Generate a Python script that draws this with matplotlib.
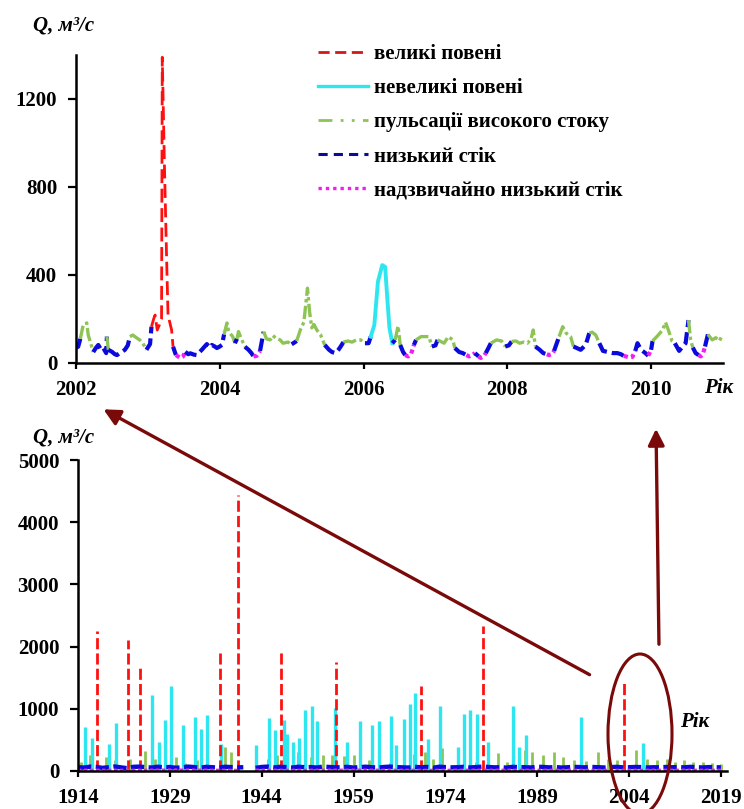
import numpy as np
import matplotlib
matplotlib.use("Agg")
import matplotlib.pyplot as plt
from matplotlib.lines import Line2D
from matplotlib.patches import FancyArrowPatch, Ellipse

plt.rcParams['font.family'] = ['Liberation Serif', 'DejaVu Serif']
plt.rcParams['font.weight'] = 'bold'

# ---- top panel: 2002-2011 daily flow, class per point
# r = великі повені, c = невеликі повені, g = пульсації, b = низький, m = надзвичайно низький
top_t = [2002.00, 2002.03, 2002.06, 2002.10, 2002.15, 2002.17, 2002.20, 2002.24, 2002.28, 2002.31,
         2002.35, 2002.38, 2002.42, 2002.43, 2002.45, 2002.50, 2002.54, 2002.57, 2002.61, 2002.64,
         2002.68, 2002.72, 2002.75, 2002.79, 2002.84, 2002.89, 2002.93, 2002.98, 2003.03, 2003.05,
         2003.08, 2003.10, 2003.13, 2003.16, 2003.19, 2003.20, 2003.23, 2003.26, 2003.28, 2003.33,
         2003.35, 2003.39, 2003.45, 2003.49, 2003.52, 2003.56, 2003.59, 2003.64, 2003.68, 2003.72,
         2003.75, 2003.79, 2003.82, 2003.86, 2003.89, 2003.93, 2003.96, 2004.00, 2004.03, 2004.06,
         2004.10, 2004.12, 2004.14, 2004.18, 2004.21, 2004.24, 2004.26, 2004.30, 2004.35, 2004.40,
         2004.44, 2004.47, 2004.51, 2004.56, 2004.61, 2004.65, 2004.70, 2004.74, 2004.78, 2004.84,
         2004.88, 2004.95, 2005.00, 2005.07, 2005.12, 2005.17, 2005.22, 2005.25, 2005.28, 2005.31,
         2005.35, 2005.40, 2005.43, 2005.46, 2005.52, 2005.56, 2005.61, 2005.65, 2005.68, 2005.72,
         2005.78, 2005.84, 2005.90, 2005.96, 2006.02, 2006.07, 2006.10, 2006.15, 2006.20, 2006.26,
         2006.30, 2006.33, 2006.36, 2006.40, 2006.44, 2006.48, 2006.51, 2006.55, 2006.58, 2006.62,
         2006.66, 2006.70, 2006.73, 2006.80, 2006.91, 2006.95, 2007.00, 2007.03, 2007.12, 2007.18,
         2007.24, 2007.27, 2007.33, 2007.38, 2007.43, 2007.47, 2007.51, 2007.55, 2007.60, 2007.63,
         2007.67, 2007.70, 2007.74, 2007.77, 2007.85, 2007.92, 2007.97, 2008.02, 2008.06, 2008.12,
         2008.17, 2008.23, 2008.28, 2008.33, 2008.36, 2008.39, 2008.45, 2008.50, 2008.55, 2008.58,
         2008.62, 2008.65, 2008.72, 2008.77, 2008.82, 2008.88, 2008.92, 2009.02, 2009.09, 2009.14,
         2009.18, 2009.23, 2009.28, 2009.33, 2009.40, 2009.47, 2009.53, 2009.58, 2009.62, 2009.65,
         2009.70, 2009.74, 2009.78, 2009.81, 2009.86, 2009.92, 2009.96, 2010.00, 2010.02, 2010.08,
         2010.12, 2010.16, 2010.20, 2010.24, 2010.29, 2010.33, 2010.39, 2010.44, 2010.48, 2010.52,
         2010.55, 2010.58, 2010.62, 2010.66, 2010.69, 2010.72, 2010.75, 2010.79, 2010.85, 2010.90,
         2010.95, 2010.98]
top_q = [70, 74, 110, 173, 182, 127, 95, 50, 70, 82,
         60, 68, 45, 120, 60, 51, 40, 36, 45, 51,
         60, 80, 120, 127, 115, 104, 90, 60, 86, 165,
         200, 218, 150, 173, 200, 1390, 900, 480, 218, 150,
         74, 36, 23, 30, 51, 40, 44, 38, 36, 50,
         60, 75, 86, 70, 82, 75, 68, 75, 82, 130,
         182, 150, 136, 120, 90, 110, 143, 110, 74, 60,
         45, 30, 32, 55, 142, 110, 105, 125, 112, 105,
         90, 95, 85, 100, 150, 186, 340, 230, 160, 175,
         150, 130, 105, 82, 60, 50, 45, 60, 74, 95,
         100, 95, 105, 105, 90, 90, 120, 173, 370, 445,
         437, 295, 160, 90, 105, 168, 82, 50, 36, 30,
         40, 82, 105, 120, 120, 75, 80, 105, 90, 120,
         105, 68, 50, 45, 36, 30, 36, 45, 30, 23,
         30, 45, 70, 90, 105, 100, 75, 80, 98, 100,
         90, 95, 90, 110, 150, 75, 60, 45, 40, 36,
         40, 55, 120, 165, 135, 120, 75, 60, 82, 136,
         140, 127, 90, 55, 50, 45, 45, 40, 32, 30,
         25, 28, 55, 90, 60, 45, 33, 60, 100, 120,
         135, 150, 185, 150, 100, 90, 55, 75, 90, 195,
         105, 70, 45, 36, 30, 40, 75, 130, 105, 115,
         100, 120]
top_cls = list("bbgggggbbb" "bbbgbbbbbb" "bbgggggbbr" "rrrrrrrrrr" "bmmmbbbbbb"
               "bbbbbbbbbg" "ggggbgggbb" "bmmbgggggg" "ggbggggggg" "gggbbbbbbg"
               "ggggbbcccc" "cccbggbbmm" "mbgggbbggg" "gbbbmmmbmm" "mbbgggbbgg"
               "gggggbbbmm" "mbggggbbbg" "ggbbbbbbmm" "mmbbbbmbgg" "gggggbbbbg"
               "gbbmmmbggg" "gg")

# ---- bottom panel: 1914-2019
big_years = [1917.1, 1922.2, 1924.1, 1937.2, 1940.1, 1947.1, 1956.1, 1970.1, 1980.1, 2003.2]
big_peaks = [2250, 2100, 1700, 1890, 4430, 1930, 1760, 1370, 2330, 1430]

small_years = [1915.1, 1916.3, 1919.1, 1920.2, 1926.1, 1927.2, 1928.2, 1929.2, 1931.1, 1933.1,
               1934.1, 1935.1, 1937.3, 1943.0, 1945.2, 1946.1, 1947.6, 1948.1, 1949.1, 1950.1,
               1951.0, 1952.2, 1953.1, 1956.0, 1958.0, 1960.0, 1962.0, 1963.1, 1965.1, 1966.0,
               1967.2, 1968.2, 1969.1, 1971.1, 1973.1, 1976.1, 1977.0, 1978.1, 1979.1, 1981.0,
               1985.1, 1986.1, 1987.1, 1996.1, 2006.2]
small_peaks = [700, 530, 430, 770, 1225, 460, 815, 1370, 740, 875,
               680, 900, 435, 410, 850, 660, 820, 600, 470, 530,
               980, 1050, 810, 1010, 460, 800, 740, 810, 890, 420,
               840, 1075, 1250, 515, 1050, 390, 915, 985, 920, 470,
               1050, 390, 580, 875, 445]

pulse_years = [1914.5, 1916.0, 1918.5, 1920.0, 1922.5, 1925.0, 1926.5, 1930.0, 1931.5, 1933.5,
               1938.0, 1939.0, 1945.0, 1946.5, 1950.0, 1952.0, 1954.0, 1955.5, 1957.5, 1959.0,
               1961.5, 1965.0, 1968.8, 1970.7, 1972.0, 1973.4, 1976.0, 1979.0, 1981.0, 1982.6,
               1984.0, 1987.0, 1988.1, 1990.0, 1991.7, 1993.2, 1995.0, 1997.0, 1998.9, 2000.5,
               2002.0, 2005.2, 2007.0, 2008.5, 2010.2, 2011.5, 2013.0, 2014.5, 2016.0, 2017.5,
               2019.0]
pulse_peaks = [150, 250, 230, 180, 200, 320, 200, 230, 130, 170,
               380, 300, 200, 250, 300, 220, 250, 250, 240, 250,
               180, 130, 275, 310, 200, 365, 190, 150, 230, 285,
               150, 330, 310, 250, 310, 230, 180, 160, 310, 200,
               180, 340, 190, 170, 190, 150, 180, 140, 150, 130,
               120]

base_years = list(range(1914, 2020))
base_q = [60, 55, 70, 65, 50, 60, 72, 58, 45, 66,
          70, 62, 55, 68, 60, 64, 52, 58, 70, 62,
          56, 66, 60, 54, 68, 62, 58, 60, np.nan, 50,
          64, 70, 58, 66, 62, 55, 68, 60, 62, 56,
          70, 64, 58, 60, 66, 54, 62, 68, 60, 56,
          64, 70, 62, 58, 55, 66, 60, 64, 52, 68,
          62, 58, 60, 66, 56, 62, 70, 64, 58, 60,
          54, 66, 62, 60, 56, 68, 64, 58, 62, 55,
          60, 66, 62, 58, 64, 60, 56, 62, 66, 58,
          60, 64, 62, 56, 60, 58, 64, 60, 62, 58,
          66, 60, 56, 62, 60, 58]
xlow_years = [1914, 1922, 1930, 1940, 1941, 1943, 1950, 1960, 1970, 1980, 1990, 2000, 2010, 2019]
xlow_q = [12, 10, 14, 10, np.nan, 12, 11, 13, 10, 12, 11, 10, 12, 11]

labels = ['великі повені', 'невеликі повені', 'пульсації високого стоку',
          'низький стік', 'надзвичайно низький стік']

W, H = 744, 809
fig = plt.figure(figsize=(W / 100, H / 100), dpi=100)


def fx(x):
    return x / W


def fy(y):
    return 1 - y / H


styles = {
    'r': dict(color='#FF1010', lw=2.0, ls=(0, (5, 2))),
    'c': dict(color='#2EE6F0', lw=2.8, ls='-'),
    'g': dict(color='#8DC455', lw=2.4, ls=(0, (4, 1, 1, 1))),
    'b': dict(color='#0A0ADC', lw=3.0, ls=(0, (3, 1.2))),
    'm': dict(color='#F01EF0', lw=3.0, ls=(0, (1, 0.8))),
}

ax1 = fig.add_axes([fx(76), fy(363), fx(723) - fx(76), fy(55) - fy(363)])
n = len(top_t)
i = 0
while i < n:
    j = i
    while j + 1 < n and top_cls[j + 1] == top_cls[i]:
        j += 1
    end = min(j + 1, n - 1)
    ax1.plot(top_t[i:end + 1], top_q[i:end + 1], **styles[top_cls[i]])
    i = j + 1
ax1.set_xlim(2002, 2011)
ax1.set_ylim(0, 1400)
ax1.set_xticks([2002, 2004, 2006, 2008, 2010])
ax1.set_yticks([0, 400, 800, 1200])

ax2 = fig.add_axes([fx(78), fy(771), fx(727) - fx(78), fy(460) - fy(771)])
ax2.vlines(pulse_years, 0, pulse_peaks, color=styles['g']['color'], lw=2.0)
ax2.vlines(small_years, 0, small_peaks, color=styles['c']['color'], lw=2.4)
ax2.vlines(big_years, 0, big_peaks, color=styles['r']['color'], lw=2.0, linestyles=(0, (4, 1.5)))
ax2.plot(base_years, base_q, color=styles['b']['color'], lw=3.2, ls=(0, (3, 1)))
ax2.plot(xlow_years, xlow_q, color=styles['m']['color'], lw=2.4, ls=(0, (1, 0.8)))
ax2.set_xlim(1914, 2020)
ax2.set_ylim(0, 5000)
ax2.set_xticks([1914, 1929, 1944, 1959, 1974, 1989, 2004, 2019])
ax2.set_yticks([0, 1000, 2000, 3000, 4000, 5000])

for ax in (ax1, ax2):
    for s in ('top', 'right'):
        ax.spines[s].set_visible(False)
    for s in ('left', 'bottom'):
        ax.spines[s].set_linewidth(1.8)
    ax.tick_params(axis='y', direction='out', length=5.5, width=1.6, pad=8, labelsize=15)
    ax.tick_params(axis='x', direction='out', length=4.5, width=1.6, pad=8, labelsize=15)
    ax.patch.set_alpha(0)

handles = [
    Line2D([], [], color='#D01818', lw=2.0, ls=(0, (4, 2))),
    Line2D([], [], color='#2EE6F0', lw=2.4, ls='-'),
    Line2D([], [], color='#8DC455', lw=2.0, ls=(0, (5, 3, 1, 3, 1, 3))),
    Line2D([], [], color='#0A0A9C', lw=2.2, ls=(0, (3, 2))),
    Line2D([], [], color='#F01EF0', lw=2.4, ls=(0, (1, 1.2))),
]
fig.legend(handles, labels, loc='upper left', bbox_to_anchor=(fx(318), fy(44)),
           frameon=False, fontsize=15, handlelength=2.4, handletextpad=0.3,
           labelspacing=0.68, borderpad=0, borderaxespad=0)

lab = dict(fontsize=15, fontweight='bold', style='italic', ha='center', va='center')
fig.text(fx(64), fy(26), 'Q, м³/с', **lab)
fig.text(fx(64), fy(437), 'Q, м³/с', **lab)
fig.text(fx(719), fy(388), 'Рік', **lab)
fig.text(fx(695), fy(722), 'Рік', **lab)

arrow_col = '#7A0A0A'
for (x0, y0), (x1, y1) in [((592, 676), (101, 408)), ((659, 647), (656, 426))]:
    fig.add_artist(FancyArrowPatch((fx(x0), fy(y0)), (fx(x1), fy(y1)), transform=fig.transFigure,
                                   arrowstyle='-|>,head_length=0.7,head_width=0.35',
                                   mutation_scale=14, color=arrow_col, lw=2.4))
fig.add_artist(Ellipse((fx(640), fy(734)), 64 / W, 160 / H, transform=fig.transFigure,
                       fill=False, edgecolor=arrow_col, lw=2.2))

fig.savefig('out.png', dpi=100)
